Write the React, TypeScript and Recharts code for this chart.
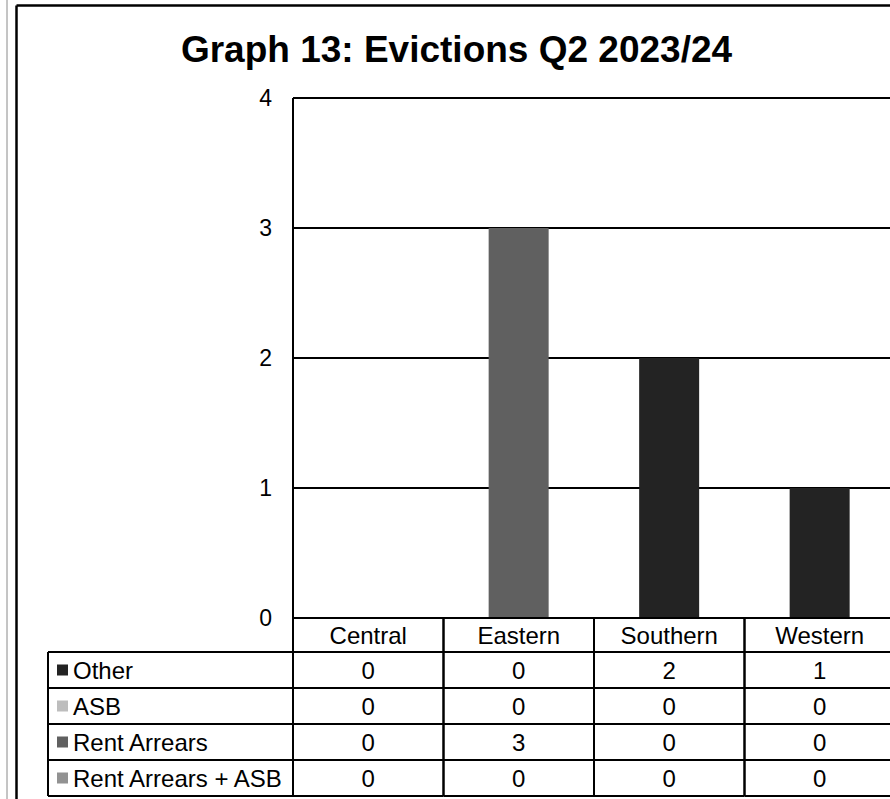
import React from 'react';
import { BarChart, Bar, XAxis, YAxis, CartesianGrid } from 'recharts';

const categories = ['Central', 'Eastern', 'Southern', 'Western'];
const otherValues = [0, 0, 2, 1];
const asbValues = [0, 0, 0, 0];
const rentArrearsValues = [0, 3, 0, 0];
const rentArrearsAsbValues = [0, 0, 0, 0];
const yTicks = [0, 1, 2, 3, 4];
const title = 'Graph 13: Evictions Q2 2023/24';

const seriesList = [
  { key: 'other', name: 'Other', values: otherValues, color: '#232323' },
  { key: 'asb', name: 'ASB', values: asbValues, color: '#bdbdbd' },
  { key: 'rentArrears', name: 'Rent Arrears', values: rentArrearsValues, color: '#606060' },
  { key: 'rentArrearsAsb', name: 'Rent Arrears + ASB', values: rentArrearsAsbValues, color: '#929292' },
];

const data = categories.map((c, i) => {
  const row: any = { category: c };
  seriesList.forEach((s) => {
    row[s.key] = s.values[i];
  });
  return row;
});

const FONT = '"Liberation Sans", Arial, sans-serif';
const CHART_W = 920;
const CHART_H = 830;
const MARGIN = { top: 98, right: 25, bottom: 0, left: 16 };
const Y_AXIS_W = 277;
const X_AXIS_H = 212;
const PLOT_LEFT = MARGIN.left + Y_AXIS_W;
const PLOT_W = CHART_W - MARGIN.right - PLOT_LEFT;
const COL_W = PLOT_W / categories.length;
const HEADER_H = 34;
const ROW_H = 36;
const LEGEND_LEFT = 48;
const FS = 24;

function TableTick(props: any) {
  const { x, y, payload } = props;
  const idx = categories.indexOf(payload.value);
  const left = x - COL_W / 2;
  const right = x + COL_W / 2;
  const rowTop = (r: number) => y + HEADER_H + r * ROW_H;
  const bottom = rowTop(seriesList.length);
  const lines: any[] = [];
  lines.push(<line key="vl" x1={left} y1={y} x2={left} y2={bottom} stroke="#000" strokeWidth={2} />);
  lines.push(<line key="vr" x1={right} y1={y} x2={right} y2={bottom} stroke="#000" strokeWidth={2} />);
  for (let r = 0; r <= seriesList.length; r++) {
    lines.push(
      <line key={'h' + r} x1={left} y1={rowTop(r)} x2={right} y2={rowTop(r)} stroke="#000" strokeWidth={2} />
    );
  }
  const legend: any[] = [];
  if (idx === 0) {
    legend.push(
      <line key="lvl" x1={LEGEND_LEFT} y1={rowTop(0)} x2={LEGEND_LEFT} y2={bottom} stroke="#000" strokeWidth={2} />
    );
    for (let r = 0; r <= seriesList.length; r++) {
      legend.push(
        <line key={'lh' + r} x1={LEGEND_LEFT} y1={rowTop(r)} x2={left} y2={rowTop(r)} stroke="#000" strokeWidth={2} />
      );
    }
    seriesList.forEach((s, r) => {
      const cy = rowTop(r) + ROW_H / 2;
      legend.push(<rect key={'sq' + r} x={57} y={cy - 5.5} width={11} height={11} fill={s.color} />);
      legend.push(
        <text key={'lt' + r} x={73} y={cy} dy="0.36em" fontSize={FS} fontFamily={FONT} fill="#000">
          {s.name}
        </text>
      );
    });
  }
  return (
    <g>
      {lines}
      {legend}
      <text x={x} y={y + HEADER_H / 2} dy="0.36em" textAnchor="middle" fontSize={FS} fontFamily={FONT} fill="#000">
        {payload.value}
      </text>
      {seriesList.map((s, r) => (
        <text
          key={'v' + r}
          x={x}
          y={rowTop(r) + ROW_H / 2}
          dy="0.36em"
          textAnchor="middle"
          fontSize={FS}
          fontFamily={FONT}
          fill="#000"
        >
          {s.values[idx]}
        </text>
      ))}
    </g>
  );
}

export default function App() {
  return (
    <div
      style={{
        position: 'fixed',
        left: 0,
        top: 0,
        width: 890,
        height: 799,
        overflow: 'hidden',
        background: '#fff',
      }}
    >
      <BarChart
        width={CHART_W}
        height={CHART_H}
        data={data}
        margin={MARGIN}
        barCategoryGap="30%"
      >
        <CartesianGrid vertical={false} stroke="#000" strokeWidth={2} />
        <XAxis
          dataKey="category"
          height={X_AXIS_H}
          interval={0}
          tickLine={false}
          tickSize={0}
          tickMargin={0}
          axisLine={{ stroke: '#000', strokeWidth: 2 }}
          tick={<TableTick />}
        />
        <YAxis
          width={Y_AXIS_W}
          domain={[0, 4]}
          ticks={yTicks}
          interval={0}
          tickLine={false}
          tickSize={0}
          tickMargin={21}
          axisLine={{ stroke: '#000', strokeWidth: 2 }}
          tick={{ fill: '#000', fontSize: 23, fontFamily: FONT }}
        />
        {seriesList.map((s) => (
          <Bar key={s.key} dataKey={s.key} name={s.name} stackId="a" fill={s.color} isAnimationActive={false} />
        ))}
      </BarChart>
      <svg
        width={890}
        height={799}
        style={{ position: 'absolute', left: 0, top: 0, pointerEvents: 'none' }}
      >
        <line x1={7} y1={0} x2={7} y2={799} stroke="#8a8a8a" strokeWidth={1} />
        <line x1={16.5} y1={5.5} x2={16.5} y2={799} stroke="#000" strokeWidth={2.5} />
        <line x1={16.5} y1={5.5} x2={890} y2={5.5} stroke="#000" strokeWidth={2.5} />
        <text
          x={456.5}
          y={62}
          textAnchor="middle"
          fontSize={37}
          fontWeight="bold"
          fontFamily={FONT}
          fill="#000"
        >
          {title}
        </text>
      </svg>
    </div>
  );
}
